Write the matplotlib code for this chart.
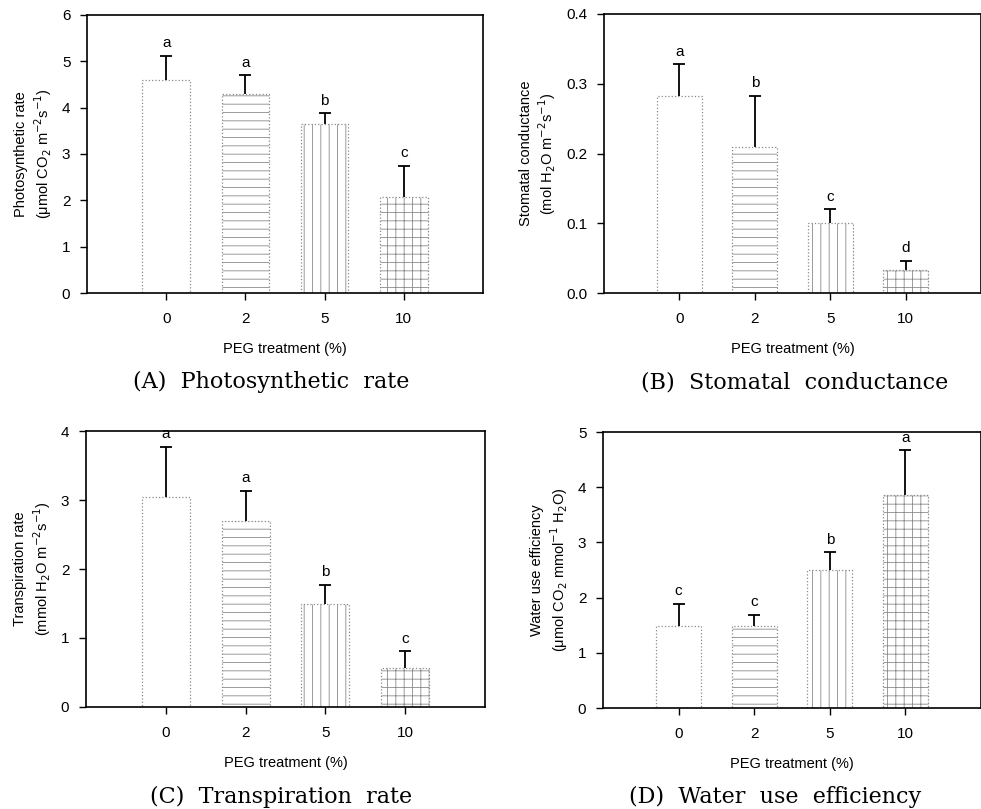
import numpy as np
import matplotlib.pyplot as plt

# ── Data ──────────────────────────────────────────────────────────────────────
peg_levels = ['0', '2', '5', '10']

photo_mean = [4.60, 4.30, 3.65, 2.07]
photo_se   = [0.52, 0.40, 0.23, 0.68]
photo_sig  = ['a', 'a', 'b', 'c']

cond_mean = [0.283, 0.210, 0.100, 0.033]
cond_se   = [0.045, 0.073, 0.020, 0.013]
cond_sig  = ['a', 'b', 'c', 'd']

trans_mean = [3.05, 2.70, 1.50, 0.57]
trans_se   = [0.72, 0.43, 0.27, 0.24]
trans_sig  = ['a', 'a', 'b', 'c']

wue_mean = [1.48, 1.48, 2.50, 3.85]
wue_se   = [0.41, 0.21, 0.32, 0.82]
wue_sig  = ['c', 'c', 'b', 'a']

# ── Style ─────────────────────────────────────────────────────────────────────
plt.rcParams['font.family'] = ['Liberation Sans', 'DejaVu Sans']
plt.rcParams['hatch.linewidth'] = 0.6
hatches = ['', '--', '||', '++']
serif = ['DejaVu Serif']

fig = plt.figure(figsize=(9.81, 8.09), dpi=100)

panels = [
    # rect, mean, se, sig, ylim, yticks, ylabel, caption, caption xy
    ([0.0887, 0.6378, 0.4037, 0.3437], photo_mean, photo_se, photo_sig,
     6, np.arange(0, 7, 1), 'Photosynthetic rate\n(μmol CO$_2$ m$^{-2}$s$^{-1}$)',
     '(A)  Photosynthetic  rate', (0.276, 0.520)),
    ([0.6157, 0.6378, 0.3843, 0.3449], cond_mean, cond_se, cond_sig,
     0.4, np.arange(0, 0.41, 0.1), 'Stomatal conductance\n(mol H$_2$O m$^{-2}$s$^{-1}$)',
     '(B)  Stomatal  conductance', (0.810, 0.520)),
    ([0.0877, 0.1261, 0.4067, 0.3411], trans_mean, trans_se, trans_sig,
     4, np.arange(0, 5, 1), 'Transpiration rate\n(mmol H$_2$O m$^{-2}$s$^{-1}$)',
     '(C)  Transpiration  rate', (0.286, 0.008)),
    ([0.6147, 0.1248, 0.3853, 0.3412], wue_mean, wue_se, wue_sig,
     5, np.arange(0, 6, 1), 'Water use efficiency\n(μmol CO$_2$ mmol$^{-1}$ H$_2$O)',
     '(D)  Water  use  efficiency', (0.790, 0.008)),
]

x = np.arange(len(peg_levels))

for rect, mean, se, sig, ytop, yticks, ylabel, caption, cxy in panels:
    ax = fig.add_axes(rect)
    for i in range(len(x)):
        ax.bar(x[i], mean[i], width=0.6, color='white', edgecolor='#8a8a8a',
               linewidth=0.9, linestyle=':', hatch=hatches[i], zorder=2)
    top = np.array(mean) + np.array(se)
    # upper error bars only, with a cap at the top
    ax.vlines(x, mean, top, color='black', linewidth=1.3, zorder=3)
    ax.plot(x, top, linestyle='none', marker='_', markersize=9,
            markeredgewidth=1.3, color='black', zorder=3)
    for i in range(len(x)):
        ax.annotate(sig[i], (x[i], top[i]), xytext=(0, 4),
                    textcoords='offset points', ha='center', va='bottom',
                    fontsize=11)

    ax.set_xlim(-1, 4)
    ax.set_ylim(0, ytop)
    ax.set_xticks(x)
    ax.set_xticklabels(peg_levels)
    ax.set_yticks(yticks)
    if ytop < 1:
        ax.set_yticklabels([f'{v:.1f}' for v in yticks])
    ax.tick_params(direction='out', length=5, width=1, labelsize=11, pad=7)
    ax.tick_params(axis='x', pad=9)
    for s in ax.spines.values():
        s.set_linewidth(1.2)
    ax.set_xlabel('PEG treatment (%)', fontsize=10.5, labelpad=11)
    ax.set_ylabel(ylabel, fontsize=10.5, labelpad=6)

    fig.text(cxy[0], cxy[1], caption, ha='center', va='baseline',
             fontsize=16, family=serif)

plt.savefig('out.png', dpi=100)
